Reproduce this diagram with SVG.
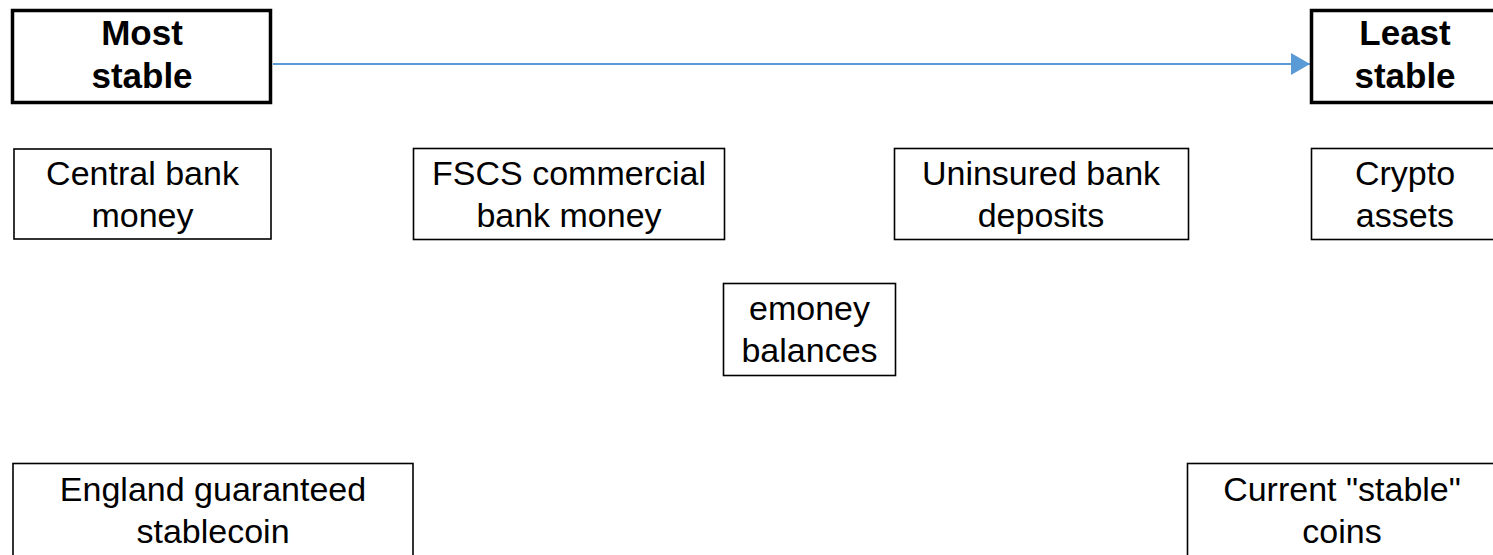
<svg xmlns="http://www.w3.org/2000/svg" width="1493" height="555" viewBox="0 0 1493 555">
<style>
.thick{fill:#fff;stroke:#000;stroke-width:3.5}
.thin{fill:#fff;stroke:#000;stroke-width:1.6}
text{font-family:"Liberation Sans",Arial,sans-serif;font-size:34px;fill:#000;text-anchor:middle}
.b{font-weight:bold;font-size:35px}
</style>
<defs>
<marker id="ah" markerUnits="userSpaceOnUse" markerWidth="20" markerHeight="22" refX="19" refY="11" orient="auto">
<path d="M0,0 L19,11 L0,22 Z" fill="#5B9BD5"/>
</marker>
</defs>
<rect width="1493" height="555" fill="#fff"/>
<g id="connectors">
<line x1="273" y1="64" x2="1310" y2="64" stroke="#5B9BD5" stroke-width="2" marker-end="url(#ah)"/>
</g>
<g id="most-stable">
<rect class="thick" x="12.5" y="10.5" width="258" height="92"/>
<text class="b" x="142" y="45">Most</text>
<text class="b" x="142" y="88">stable</text>
</g>
<g id="least-stable">
<rect class="thick" x="1311.5" y="10.5" width="190" height="92"/>
<text class="b" x="1405" y="45">Least</text>
<text class="b" x="1405" y="88">stable</text>
</g>
<g id="central-bank">
<rect class="thin" x="14" y="149" width="257" height="90"/>
<text x="142.5" y="185">Central bank</text>
<text x="142.5" y="227">money</text>
</g>
<g id="fscs">
<rect class="thin" x="413.5" y="148.5" width="311" height="91"/>
<text x="569" y="185">FSCS commercial</text>
<text x="569" y="227">bank money</text>
</g>
<g id="uninsured">
<rect class="thin" x="894.5" y="148.5" width="294" height="91"/>
<text x="1041" y="185">Uninsured bank</text>
<text x="1041" y="227">deposits</text>
</g>
<g id="crypto">
<rect class="thin" x="1311.5" y="148.5" width="190" height="91"/>
<text x="1405" y="185">Crypto</text>
<text x="1405" y="227">assets</text>
</g>
<g id="emoney">
<rect class="thin" x="723.5" y="283.5" width="172" height="92"/>
<text x="809.5" y="320">emoney</text>
<text x="809.5" y="362">balances</text>
</g>
<g id="england">
<rect class="thin" x="13" y="463.5" width="400" height="100"/>
<text x="213" y="501">England guaranteed</text>
<text x="213" y="543">stablecoin</text>
</g>
<g id="current-stable">
<rect class="thin" x="1187.5" y="463.5" width="310" height="100"/>
<text x="1342" y="501">Current "stable"</text>
<text x="1342" y="543">coins</text>
</g>
</svg>
